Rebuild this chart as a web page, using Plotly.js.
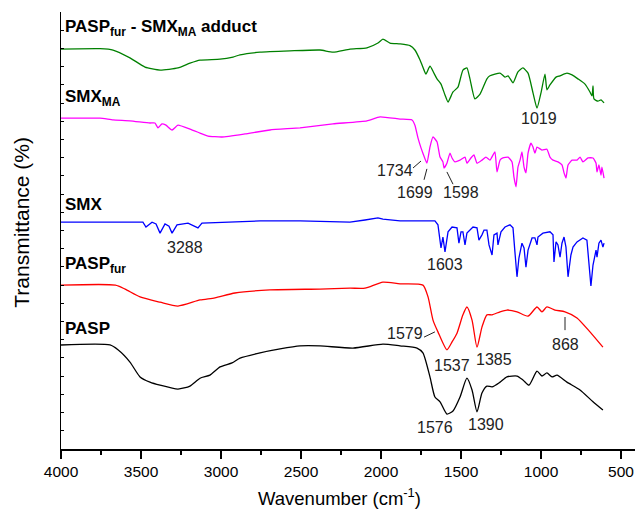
<!DOCTYPE html>
<html>
<head>
<meta charset="utf-8">
<script src="https://cdn.plot.ly/plotly-3.0.1.min.js"></script>
<style>html,body{margin:0;padding:0;background:#fff;}#chart{width:635px;height:513px;}</style>
</head>
<body>
<div id="chart"></div>
<script>
// Offset transmittance spectra (arbitrary units, stacked), wavenumber in cm-1
const adductWn = [4000,3756,3675,3569,3475,3381,3269,3194,3131,3006,2925,2881,2756,2569,2381,2300,2194,2088,2019,1988,1944,1881,1819,1788,1756,1731,1719,1694,1669,1650,1625,1600,1581,1550,1519,1488,1463,1444,1413,1381,1338,1319,1256,1225,1206,1175,1144,1113,1081,1050,1025,1000,975,963,944,906,881,838,806,769,725,694,681,675,669,644,625,606];
const adductT  = [91.5,91.6,91.3,89.5,87.4,86.7,87.2,88.3,89.0,89.2,89.7,90.2,90.8,91.1,91.3,90.8,91.5,91.8,92.9,93.8,92.9,92.7,92.3,91.3,89.0,86.7,85.8,87.6,86.0,84.7,83.5,81.0,79.4,81.7,82.8,86.7,87.2,84.7,80.1,81.2,84.7,85.4,86.0,85.1,85.4,83.8,86.3,87.2,86.0,81.5,78.0,81.5,85.8,82.2,83.3,85.1,85.4,86.0,85.6,84.7,83.5,81.7,80.8,83.1,80.1,79.6,79.9,79.2];

const smxmaWn = [4000,3756,3675,3569,3444,3413,3394,3369,3344,3306,3269,3194,3131,3081,2994,2850,2694,2506,2300,2088,2006,1881,1806,1788,1769,1750,1738,1713,1694,1675,1650,1631,1613,1606,1588,1569,1556,1538,1506,1475,1463,1438,1419,1400,1369,1344,1319,1288,1275,1256,1238,1206,1181,1169,1156,1144,1131,1119,1106,1094,1081,1063,1050,1038,1025,994,963,944,925,894,869,856,844,831,806,775,756,738,706,675,656,650,638,625,619,606];
const smxmaT  = [75.7,75.7,75.3,75.1,74.6,74.6,73.5,74.4,74.1,73.0,74.1,73.2,72.3,71.6,71.4,72.1,73.0,73.5,74.4,75.1,76.0,75.5,75.3,74.1,71.2,68.9,67.7,65.4,69.1,71.4,70.3,66.8,65.7,64.3,65.4,67.7,66.6,65.7,66.1,66.8,65.4,66.6,67.3,65.4,66.1,66.8,66.1,68.0,63.4,66.1,66.6,66.8,65.7,62.2,60.0,64.5,66.1,68.0,64.5,63.2,67.7,70.0,69.1,67.7,69.1,68.4,68.6,66.8,66.1,65.7,65.0,63.2,62.0,65.0,66.1,66.1,66.8,65.7,66.6,66.6,65.4,63.4,65.0,62.7,64.5,62.0];

const smxWn = [4000,3488,3469,3431,3406,3381,3350,3325,3306,3275,3206,3144,3119,2994,2756,2506,2194,2100,2019,1988,1881,1663,1644,1625,1613,1600,1581,1556,1525,1513,1500,1488,1475,1463,1444,1425,1400,1388,1369,1356,1338,1325,1306,1294,1275,1269,1250,1225,1194,1175,1163,1150,1138,1119,1106,1094,1081,1056,1038,1025,1019,988,944,925,919,906,894,881,869,856,844,831,813,800,775,738,713,700,688,675,656,650,638,625,613,606];
const smxT  = [51.9,51.9,50.8,51.9,51.5,49.4,51.5,51.0,49.4,51.3,51.7,50.6,51.7,51.9,52.2,52.2,51.9,52.4,52.9,52.6,52.2,52.2,51.3,46.0,48.5,45.1,49.7,50.8,50.6,47.1,49.7,49.7,46.7,49.4,50.1,50.8,50.6,47.8,49.0,50.1,50.1,46.7,44.4,49.0,49.4,46.7,49.7,50.8,51.3,50.6,45.1,39.4,43.7,47.1,46.0,41.6,45.5,48.3,48.3,46.7,48.5,49.4,49.7,49.0,42.8,47.4,46.7,43.9,47.1,48.5,46.2,39.4,44.4,46.2,47.4,48.3,47.8,42.8,37.3,42.1,45.5,43.9,47.1,47.8,46.2,47.1];

const paspfurWn = [4000,3660,3600,3506,3381,3269,3131,3038,2913,2694,2381,2194,2100,1988,1881,1738,1706,1675,1644,1588,1556,1525,1488,1463,1431,1400,1369,1338,1306,1256,1213,1150,1081,1025,994,963,913,850,775,694,613];
const paspfurT  = [37.5,37.5,36.6,34.8,33.6,32.7,34.1,34.6,35.7,36.4,36.6,36.8,36.8,38.2,37.8,37.5,34.8,29.5,26.8,22.7,24.5,26.5,30.7,32.5,29.5,23.3,27.9,30.7,30.7,31.4,31.8,31.4,30.4,32.5,31.4,32.5,31.8,31.4,30.0,26.8,23.3];

const paspWn = [4000,3694,3644,3569,3506,3444,3381,3269,3194,3131,3069,3006,2931,2881,2756,2631,2506,2381,2175,1988,1881,1775,1738,1694,1663,1631,1588,1550,1506,1463,1431,1400,1369,1338,1306,1256,1213,1150,1113,1075,1025,994,963,931,900,838,756,675,613];
const paspT  = [23.8,23.8,22.7,19.9,16.5,15.3,14.6,13.7,14.4,16.2,16.9,18.8,19.7,20.8,22.0,22.9,23.6,23.6,23.1,24.0,23.6,23.1,22.0,16.5,11.9,10.8,8.0,8.7,11.9,16.2,13.5,8.5,12.8,14.4,14.2,15.3,16.5,16.7,15.8,14.6,17.8,16.7,17.4,16.5,16.9,15.3,13.5,10.8,8.9];

const seriesNames = ['PASP<sub>fur</sub> - SMX<sub>MA</sub> adduct','SMX<sub>MA</sub>','SMX','PASP<sub>fur</sub>','PASP'];
const seriesColors = ['#008000','#FF00FF','#0000FF','#FF0000','#000000'];
const seriesX = [adductWn, smxmaWn, smxWn, paspfurWn, paspWn];
const seriesY = [adductT, smxmaT, smxT, paspfurT, paspT];
const nameLabelY = [96.3, 80.3, 56.0, 42.0, 27.6];

// Band labels: wavenumber text, anchor position (cm-1, offset T)
const bandText = ['1019','1734','1699','1598','3288','1603','1579','1537','1385','868','1576','1390'];
const bandX    = [1012,1912,1787,1500,3225,1600,1850,1556,1294,850,1662,1344];
const bandY    = [75.7,63.8,58.8,58.8,46.2,42.3,26.5,19.2,20.4,23.8,5.0,5.5];

// Leader lines for some band labels
const leadX0 = [1800,1731,1550,1731,850];
const leadY0 = [64.3,61.6,60.6,25.6,30.2];
const leadX1 = [1750,1713,1588,1663,850];
const leadY1 = [65.9,64.1,63.4,26.8,27.2];

const FONT = 'Liberation Sans, Arial, sans-serif';
const smooth = [0.5, 0.4, 0, 0.6, 0.6];

const traces = seriesX.map((xs, i) => ({
  x: xs, y: seriesY[i], type: 'scatter', mode: 'lines',
  line: smooth[i] > 0 ? {color: seriesColors[i], width: 1.3, shape: 'spline', smoothing: smooth[i]}
                      : {color: seriesColors[i], width: 1.3},
  hoverinfo: 'skip', showlegend: false
}));

const annotations = [];
seriesNames.forEach((n, i) => annotations.push({
  x: 3985, y: nameLabelY[i], xref: 'x', yref: 'y', text: '<b>' + n + '</b>',
  showarrow: false, xanchor: 'left', yanchor: 'middle',
  font: {family: FONT, size: 17, color: '#000'}
}));
bandText.forEach((t, i) => annotations.push({
  x: bandX[i], y: bandY[i], xref: 'x', yref: 'y', text: t,
  showarrow: false, xanchor: 'center', yanchor: 'middle',
  font: {family: FONT, size: 16, color: '#222'}
}));
// Axis titles
annotations.push({
  x: 0.486, y: -0.11, xref: 'paper', yref: 'paper', text: 'Wavenumber (cm<sup>-1</sup>)',
  showarrow: false, xanchor: 'center', yanchor: 'middle',
  font: {family: FONT, size: 18.5, color: '#000'}
});
annotations.push({
  x: -0.068, y: 0.52, xref: 'paper', yref: 'paper', text: 'Transmittance (%)', textangle: -90,
  showarrow: false, xanchor: 'center', yanchor: 'middle',
  font: {family: FONT, size: 21, color: '#000'}
});

const shapes = leadX0.map((x0, i) => ({
  type: 'line', xref: 'x', yref: 'y', x0: x0, y0: leadY0[i], x1: leadX1[i], y1: leadY1[i],
  line: {color: '#222', width: 1}
}));

const layout = {
  width: 635, height: 513,
  margin: {l: 61, r: 0, t: 12, b: 64},
  paper_bgcolor: '#fff', plot_bgcolor: '#fff',
  font: {family: FONT, color: '#000'},
  xaxis: {
    range: [4000, 412.5], autorange: false,
    tick0: 0, dtick: 500, ticks: 'outside', ticklen: 8, tickwidth: 1.5, tickcolor: '#000',
    minor: {dtick: 250, ticks: 'outside', ticklen: 4, tickwidth: 1.5, tickcolor: '#000'},
    showline: true, linecolor: '#000', linewidth: 1.5,
    showgrid: false, zeroline: false,
    tickfont: {family: FONT, size: 15.5, color: '#000'}
  },
  yaxis: {
    range: [0, 100], autorange: false,
    tick0: 0, dtick: 100/24, ticks: 'inside', ticklen: 3, tickwidth: 1, tickcolor: '#000',
    showticklabels: false,
    showline: true, linecolor: '#000', linewidth: 1.5,
    showgrid: false, zeroline: false
  },
  annotations: annotations,
  shapes: shapes
};

Plotly.newPlot('chart', traces, layout, {staticPlot: true, displayModeBar: false});
</script>
</body>
</html>
